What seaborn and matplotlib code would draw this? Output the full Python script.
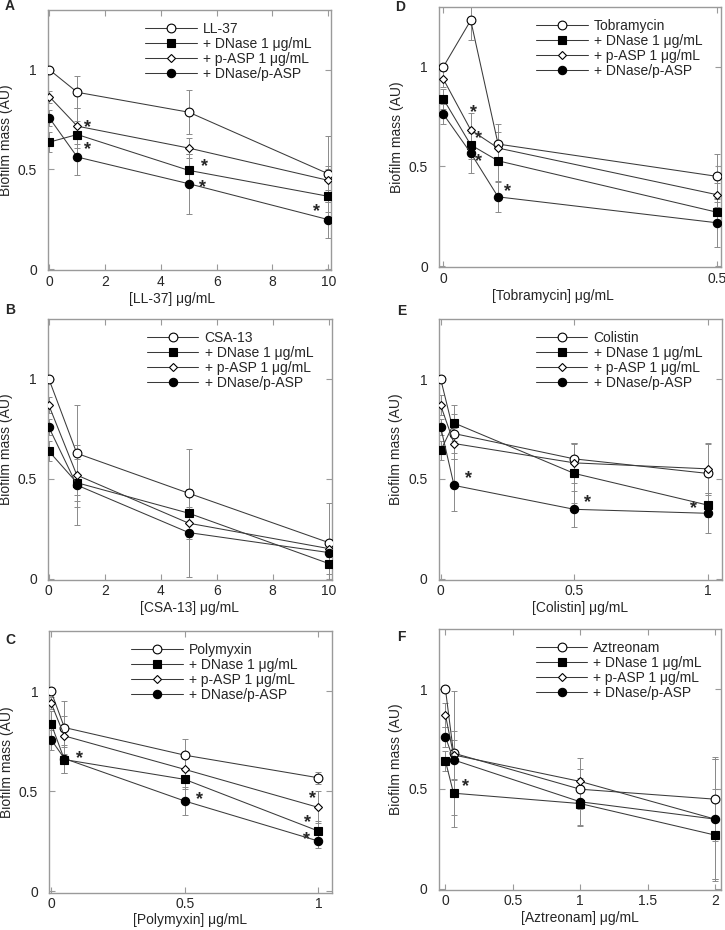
import matplotlib
matplotlib.use("Agg")
import matplotlib.pyplot as plt
import seaborn as sns

# ---- data ----
SERIES_LABELS = ["+ DNase 1 μg/mL", "+ p-ASP 1 μg/mL", "+ DNase/p-ASP"]
Y_TICKS = [0, 0.5, 1]
Y_TICK_LABELS = ["0", "0.5", "1"]

# A: LL-37
A_X = [0, 1, 5, 10]
A_DRUG = [1.0, 0.887, 0.787, 0.478]
A_DNASE = [0.637, 0.675, 0.495, 0.365]
A_PASP = [0.865, 0.717, 0.607, 0.445]
A_BOTH = [0.758, 0.562, 0.428, 0.248]
A_DRUG_ERR = [0.0, 0.08, 0.11, 0.19]
A_DNASE_ERR = [0.05, 0.07, 0.08, 0.03]
A_PASP_ERR = [0.03, 0.09, 0.05, 0.07]
A_BOTH_ERR = [0.04, 0.09, 0.15, 0.09]
A_STARS_X = [1.36, 1.36, 5.55, 5.49, 9.57]
A_STARS_Y = [0.74, 0.625, 0.54, 0.437, 0.315]

# B: CSA-13
B_X = [0, 1, 5, 10]
B_DRUG = [1.0, 0.627, 0.427, 0.18]
B_DNASE = [0.638, 0.48, 0.327, 0.075]
B_PASP = [0.868, 0.518, 0.277, 0.15]
B_BOTH = [0.758, 0.468, 0.23, 0.13]
B_DRUG_ERR = [0.0, 0.24, 0.22, 0.2]
B_DNASE_ERR = [0.05, 0.12, 0.1, 0.05]
B_PASP_ERR = [0.04, 0.1, 0.08, 0.04]
B_BOTH_ERR = [0.04, 0.2, 0.22, 0.05]
B_STARS_X = []
B_STARS_Y = []

# C: Polymyxin
C_X = [0, 0.05, 0.5, 1]
C_DRUG = [1.0, 0.819, 0.681, 0.568]
C_DNASE = [0.839, 0.659, 0.56, 0.302]
C_PASP = [0.942, 0.777, 0.61, 0.42]
C_BOTH = [0.759, 0.664, 0.452, 0.252]
C_DRUG_ERR = [0.0, 0.13, 0.08, 0.03]
C_DNASE_ERR = [0.06, 0.065, 0.05, 0.05]
C_PASP_ERR = [0.03, 0.1, 0.07, 0.08]
C_BOTH_ERR = [0.05, 0.07, 0.07, 0.035]
C_STARS_X = [0.105, 0.554, 0.978, 0.958, 0.954]
C_STARS_Y = [0.694, 0.487, 0.493, 0.37, 0.287]

# D: Tobramycin
D_X = [0, 0.05, 0.1, 0.5]
D_DRUG = [1.0, 1.233, 0.612, 0.45]
D_DNASE = [0.838, 0.608, 0.528, 0.27]
D_PASP = [0.938, 0.683, 0.592, 0.358]
D_BOTH = [0.762, 0.567, 0.347, 0.217]
D_DRUG_ERR = [0.0, 0.1, 0.1, 0.11]
D_DNASE_ERR = [0.05, 0.07, 0.1, 0.05]
D_PASP_ERR = [0.04, 0.085, 0.08, 0.06]
D_BOTH_ERR = [0.05, 0.1, 0.075, 0.12]
D_STARS_X = [0.055, 0.065, 0.065, 0.118]
D_STARS_Y = [0.8, 0.667, 0.55, 0.4]

# E: Colistin
E_X = [0, 0.05, 0.5, 1]
E_DRUG = [1.0, 0.727, 0.6, 0.527]
E_DNASE = [0.642, 0.78, 0.527, 0.368]
E_PASP = [0.868, 0.677, 0.58, 0.55]
E_BOTH = [0.758, 0.467, 0.347, 0.327]
E_DRUG_ERR = [0.0, 0.1, 0.08, 0.15]
E_DNASE_ERR = [0.05, 0.09, 0.15, 0.06]
E_PASP_ERR = [0.05, 0.08, 0.1, 0.13]
E_BOTH_ERR = [0.04, 0.13, 0.09, 0.1]
E_STARS_X = [0.104, 0.549, 0.946]
E_STARS_Y = [0.527, 0.41, 0.377]

# F: Aztreonam
F_X = [0, 0.06, 1, 2]
F_DRUG = [1.0, 0.679, 0.498, 0.448]
F_DNASE = [0.64, 0.478, 0.426, 0.268]
F_PASP = [0.87, 0.67, 0.537, 0.348]
F_BOTH = [0.761, 0.645, 0.435, 0.348]
F_DRUG_ERR = [0.0, 0.31, 0.1, 0.21]
F_DNASE_ERR = [0.05, 0.17, 0.11, 0.23]
F_PASP_ERR = [0.06, 0.12, 0.12, 0.3]
F_BOTH_ERR = [0.05, 0.1, 0.12, 0.3]
F_STARS_X = [0.15]
F_STARS_Y = [0.537]

# marker, face colour, size per series (drug, DNase, p-ASP, both)
MARKERS = ["o", "s", "D", "o"]
FACES = ["white", "black", "white", "black"]
SIZES = [6.3, 6.0, 4.4, 6.0]

LINE_COL = "#3a3a3a"
ERR_COL = "#8a8a8a"
FRAME_COL = "#9a9a9a"

sns.set_style("ticks")
plt.rcParams["font.family"] = ["Liberation Sans", "DejaVu Sans"]
plt.rcParams["font.size"] = 10

W, H = 725, 930
fig = plt.figure(figsize=(W / 100, H / 100), dpi=100)


def px_axes(left, top, right, bottom):
    return fig.add_axes([left / W, 1 - bottom / H, (right - left) / W, (bottom - top) / H])


def draw_panel(ax, x, ys, errs, drug, xlabel, xlim, xticks, xticklabels,
               stars_x, stars_y, leg_x, xlab_x=0.5, xlab_y=-0.083):
    labels = [drug] + SERIES_LABELS
    for i, (y, e) in enumerate(zip(ys, errs)):
        ax.errorbar(x, y, yerr=e, fmt="none", ecolor=ERR_COL, elinewidth=0.7,
                    capsize=2.5, capthick=0.7, zorder=1)
        sns.lineplot(x=x, y=y, ax=ax, color=LINE_COL, lw=0.75, marker=MARKERS[i],
                     markersize=SIZES[i], markerfacecolor=FACES[i],
                     markeredgecolor="black", markeredgewidth=0.8,
                     label=labels[i], zorder=3 + i)
    for sx, sy in zip(stars_x, stars_y):
        ax.annotate("*", (sx, sy), xytext=(0, -4), textcoords="offset points",
                    ha="center", va="center", fontsize=13, fontweight="bold")
    ax.set_xlim(*xlim)
    ax.set_ylim(-0.005, 1.3)
    ax.set_xticks(xticks)
    ax.set_xticklabels(xticklabels)
    ax.set_yticks(Y_TICKS)
    ax.set_yticklabels(Y_TICK_LABELS)
    ax.tick_params(direction="in", top=True, right=True, length=4, width=0.8,
                   color=FRAME_COL, labelsize=10)
    ax.tick_params(axis="x", pad=3.5)
    ax.tick_params(axis="y", pad=8)
    for sp in ax.spines.values():
        sp.set_color(FRAME_COL)
        sp.set_linewidth(1.0)
    ax.set_xlabel(xlabel, fontsize=10)
    ax.set_ylabel("Biofilm mass (AU)", fontsize=10)
    ax.xaxis.set_label_coords(xlab_x, xlab_y)
    ax.yaxis.set_label_coords(-0.125, 0.5)
    ax.legend(loc="upper left", bbox_to_anchor=(leg_x, 0.955), frameon=False,
              fontsize=10, handlelength=3.7, handletextpad=0.45,
              labelspacing=0.08, borderpad=0, borderaxespad=0)


ax_a = px_axes(48, 10, 331, 270)
draw_panel(ax_a, A_X, [A_DRUG, A_DNASE, A_PASP, A_BOTH],
           [A_DRUG_ERR, A_DNASE_ERR, A_PASP_ERR, A_BOTH_ERR],
           "LL-37", "[LL-37] μg/mL", (-0.05, 10.1), [0, 2, 4, 6, 8, 10],
           ["0", "2", "4", "6", "8", "10"], A_STARS_X, A_STARS_Y, 0.344, xlab_x=0.44)

ax_b = px_axes(48, 319, 331.5, 579.5)
draw_panel(ax_b, B_X, [B_DRUG, B_DNASE, B_PASP, B_BOTH],
           [B_DRUG_ERR, B_DNASE_ERR, B_PASP_ERR, B_BOTH_ERR],
           "CSA-13", "[CSA-13] μg/mL", (-0.03, 10.1), [0, 2, 4, 6, 8, 10],
           ["0", "2", "4", "6", "8", "10"], B_STARS_X, B_STARS_Y, 0.349)

ax_c = px_axes(49.3, 631.2, 331.7, 892.5)
draw_panel(ax_c, C_X, [C_DRUG, C_DNASE, C_PASP, C_BOTH],
           [C_DRUG_ERR, C_DNASE_ERR, C_PASP_ERR, C_BOTH_ERR],
           "Polymyxin", "[Polymyxin] μg/mL", (-0.0065, 1.05), [0, 0.5, 1],
           ["0", "0.5", "1"], C_STARS_X, C_STARS_Y, 0.29, xlab_y=-0.08)

ax_d = px_axes(439, 7, 720.7, 267)
draw_panel(ax_d, D_X, [D_DRUG, D_DNASE, D_PASP, D_BOTH],
           [D_DRUG_ERR, D_DNASE_ERR, D_PASP_ERR, D_BOTH_ERR],
           "Tobramycin", "[Tobramycin] μg/mL", (-0.008, 0.507), [0, 0.5],
           ["0", "0.5"], D_STARS_X, D_STARS_Y, 0.346, xlab_x=0.405)

ax_e = px_axes(438.7, 319.3, 721.7, 579.5)
draw_panel(ax_e, E_X, [E_DRUG, E_DNASE, E_PASP, E_BOTH],
           [E_DRUG_ERR, E_DNASE_ERR, E_PASP_ERR, E_BOTH_ERR],
           "Colistin", "[Colistin] μg/mL", (-0.0075, 1.052), [0, 0.5, 1],
           ["0", "0.5", "1"], E_STARS_X, E_STARS_Y, 0.344)

ax_f = px_axes(438.7, 629.3, 721, 889.5)
draw_panel(ax_f, F_X, [F_DRUG, F_DNASE, F_PASP, F_BOTH],
           [F_DRUG_ERR, F_DNASE_ERR, F_PASP_ERR, F_BOTH_ERR],
           "Aztreonam", "[Aztreonam] μg/mL", (-0.05, 2.045), [0, 0.5, 1, 1.5, 2],
           ["0", "0.5", "1", "1.5", "2"], F_STARS_X, F_STARS_Y, 0.344)

for letter, lx, ly in [("A", 10, 6), ("B", 10, 310), ("C", 10, 640),
                       ("D", 400, 7), ("E", 402, 311), ("F", 401, 637)]:
    fig.text(lx / W, 1 - ly / H, letter, ha="center", va="center",
             fontsize=10, fontweight="bold")

fig.savefig("out.png", dpi=100)
